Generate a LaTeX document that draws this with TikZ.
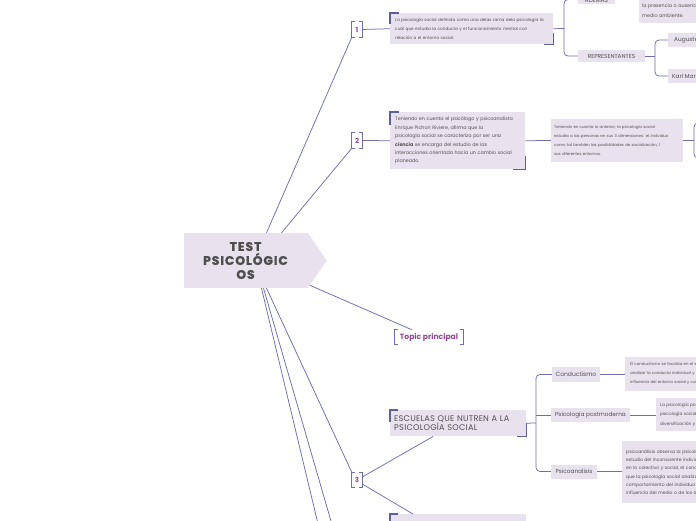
\documentclass[tikz,border=0pt]{standalone}
\usepackage{fontspec}
\setmainfont{Poppins}
\definecolor{linec}{RGB}{110,110,175}
\definecolor{brkc}{RGB}{95,95,160}
\definecolor{boxc}{RGB}{232,226,238}
\definecolor{txtc}{RGB}{80,80,80}
\definecolor{numc}{RGB}{150,70,150}
\newcommand\myfs[2]{\fontsize{#1}{#2}\selectfont}
\begin{document}
\begin{tikzpicture}[x=1pt,y=-1pt,
  conn/.style={draw=linec,line width=0.75pt},
  brk/.style={draw=linec,line width=1pt},
  cbr/.style={draw=brkc,line width=1.8pt},
  box/.style={fill=boxc,inner sep=0pt,text=txtc,align=left},
  lbl/.style={fill=boxc,inner sep=0pt,text=txtc,font=\myfs{5.8}{7}},
  num/.style={inner sep=0pt,minimum width=10pt,minimum height=15pt,text=numc,font=\bfseries\myfs{7}{8}}]
\useasboundingbox (0,0) rectangle (696,520);
\clip (0,0) rectangle (696,520);
\fill[white] (0,0) rectangle (696,520);

% central node
\node[fill=boxc,minimum width=124pt,minimum height=55pt,align=center,text={rgb,255:red,78;green,78;blue,78},font=\bfseries\myfs{12.3}{14}\addfontfeatures{LetterSpace=8,FakeBold=1.5}] (c) at (245.5,260.5) {TEST\\PSICOLÓGIC\\OS};
\fill[boxc] (c.north east) -- ([xshift=19pt]c.east) -- (c.south east) -- cycle;

% markers
\node[num] (m1) at (357,29.5) {1};
\node[num] (m2) at (357,140.5) {2};
\node[num] (m3) at (357,480) {3};
\foreach \m in {m1,m2,m3}{
  \draw[brk] ([xshift=3pt]\m.north west) -- (\m.north west) -- (\m.south west) -- ([xshift=3pt]\m.south west);
  \draw[brk] ([xshift=-3pt]\m.north east) -- (\m.north east) -- (\m.south east) -- ([xshift=-3pt]\m.south east);
}
\node[inner sep=0pt,minimum width=68pt,minimum height=14pt,text=numc,font=\bfseries\myfs{7.6}{9}] (tp) at (429,337) {Topic principal};
\draw[brk] ([xshift=3pt]tp.north west) -- (tp.north west) -- (tp.south west) -- ([xshift=3pt]tp.south west);
\draw[brk] ([xshift=-3pt]tp.north east) -- (tp.north east) -- (tp.south east) -- ([xshift=-3pt]tp.south east);

% connectors from centre
\draw[conn] ([xshift=21pt]c.north) -- (m1.south west);
\draw[conn] ([xshift=36pt]c.north) -- (m2.south west);
\draw[conn] ([xshift=2pt,yshift=3pt]c.south east) -- ([xshift=-17pt]tp.north);
\draw[conn] ([xshift=21pt]c.south) -- (m3.north west);
\coordinate (o4) at (319,528);
\coordinate (o5) at (333,528);
\draw[conn] ([xshift=16pt]c.south) -- (o4);
\draw[conn] ([xshift=18pt]c.south) -- (o5);

% branch 1
\node[box,anchor=north west,minimum width=163pt,minimum height=31pt,text width=153pt,font=\myfs{4.2}{9}] (b1) at (390,13)
 {La psicología social definida como una delas rama dela psicología la\\cuál que estudia la conducta y el funcionamiento mental con\\relación a el entorno social.};
\draw[conn] (m1.east) -- (b1.west);
\coordinate (br1) at (564,28.5);
\node[lbl,minimum width=37pt,minimum height=9pt] (ad) at (596.5,-0.5) {ADEMÁS};
\node[lbl,minimum width=67pt,minimum height=12pt] (rep) at (611.5,56) {REPRESENTANTES};
\draw[conn] (b1.east) -- (br1);
\draw[conn,rounded corners=4pt] (ad.west) -| (br1) |- (rep.west);
\node[box,anchor=north west,minimum height=26pt,text width=90pt,inner xsep=3pt,font=\myfs{4.8}{10}] (ad2) at (639,-3)
 {la presencia o ausencia del\\medio ambiente.};
\draw[conn] (ad.east) -- (ad.east -| ad2.west);
\coordinate (br2) at (655,56);
\node[lbl,anchor=west,minimum height=14pt,inner xsep=6pt] (aug) at (668,40) {Auguste Comte};
\node[lbl,anchor=west,minimum height=14pt,inner xsep=4pt] (karl) at (668,76) {Karl Marx};
\draw[conn] (rep.east) -- (br2);
\draw[conn,rounded corners=4pt] (aug.west) -| (br2) |- (karl.west);
\draw[cbr] ([yshift=-11pt]b1.north west) -- (b1.north west) -- ([xshift=9pt]b1.north west);
\draw[cbr] ([yshift=11pt]b1.south east) -- (b1.south east) -- ([xshift=-9pt]b1.south east);

% branch 2
\node[box,anchor=north west,minimum width=135pt,minimum height=57pt,text width=125pt,font=\myfs{4.8}{8.4}] (b2) at (390,112)
 {Teniendo en cuenta el psicólogo y psicoanalista\\Enrique Pichon Riviere, afirma que la\\psicología social se caracteriza por ser una\\\textbf{ciencia} se encarga del estudio de las\\interacciones orientada hacia un cambio social\\planeado.};
\draw[conn] (m2.east) -- (b2.west);
\draw[cbr] ([yshift=-13pt]b2.north west) -- (b2.north west) -- ([xshift=9pt]b2.north west);
\draw[cbr] ([yshift=13pt]b2.south east) -- (b2.south east) -- ([xshift=-12pt]b2.south east);
\node[box,anchor=west,minimum width=132pt,minimum height=43pt,text width=126pt,font=\myfs{3.9}{9}] (b2b) at (551,140.5)
 {Teniendo en cuenta lo anterior, la psicología social\\estudia a las personas en sus 3 dimensiones: el individuo\\como tal también las posibilidades de socialización, l\\sus diferentes entornos.};
\draw[conn] (b2.east) -- (b2b.west);
\coordinate (br4) at (694,140.5);
\coordinate (e1) at (704,123);
\coordinate (e2) at (704,158);
\draw[conn] (b2b.east) -- (br4);
\draw[conn,rounded corners=4pt] (e1) -| (br4) |- (e2);

% branch 3
\node[box,anchor=north west,minimum width=136pt,minimum height=26pt,text width=128pt,font=\myfs{8.2}{9}\addfontfeatures{LetterSpace=3}] (esc) at (390,410)
 {ESCUELAS QUE NUTREN A LA\\PSICOLOGÍA SOCIAL};
\draw[cbr] ([yshift=-12pt]esc.north west) -- (esc.north west) -- ([xshift=8pt]esc.north west);
\draw[cbr] ([yshift=13pt]esc.south east) -- (esc.south east) -- ([xshift=-9pt]esc.south east);
\node[box,anchor=north west,minimum width=136pt,minimum height=30pt] (b4) at (390,514) {};
\draw[cbr] ([yshift=-12pt]b4.north west) -- (b4.north west) -- ([xshift=8pt]b4.north west);
\draw[conn] ([yshift=3pt]m3.east) -- ([xshift=-25pt]esc.south);
\draw[conn] ([yshift=-4pt]m3.east) -- ([xshift=23pt]b4.north west);

\coordinate (br3) at (536,423);
\node[lbl,minimum width=48pt,minimum height=15pt,font=\myfs{6}{7}] (cond) at (576,374.5) {Conductismo};
\node[lbl,minimum width=79pt,minimum height=14pt] (post) at (590.5,415) {Psicología postmoderna};
\node[lbl,minimum width=46pt,minimum height=14pt] (psa) at (574,471.5) {Psicoanalisis};
\draw[conn] (esc.east) -- (br3);
\draw[conn,rounded corners=4pt] (cond.west) -| (br3) |- (psa.west);
\draw[conn] (br3 |- post.west) -- (post.west);

\node[box,anchor=west,minimum height=34pt,text width=110pt,inner xsep=5pt,font=\myfs{3.9}{9}] (condt) at (625,374)
 {El conductismo se focaliza en el estudio\\analizar la conducta individual y la\\influencia del entorno social y cultural};
\draw[conn] (cond.east) -- (cond.east -| condt.west);
\node[box,anchor=west,minimum height=33pt,text width=110pt,inner xsep=4pt,font=\myfs{4.3}{9.5}] (postt) at (656,414.5)
 {La psicología posmoderna\\psicología social\\diversificación y};
\draw[conn] (post.east) -- (post.east -| postt.west);
\node[box,anchor=north west,minimum height=62pt,text width=110pt,inner xsep=4pt,font=\myfs{4.5}{8.3}] (psat) at (622,441)
 {psicoanálisis observa la psicología\\estudio del inconsciente individual\\en lo colectivo y social, el concepto\\que la psicología social analiza el\\comportamiento del individuo bajo la\\influencia del medio o de los demás};
\draw[conn] (psa.east) -- (psa.east -| psat.west);
\end{tikzpicture}
\end{document}
